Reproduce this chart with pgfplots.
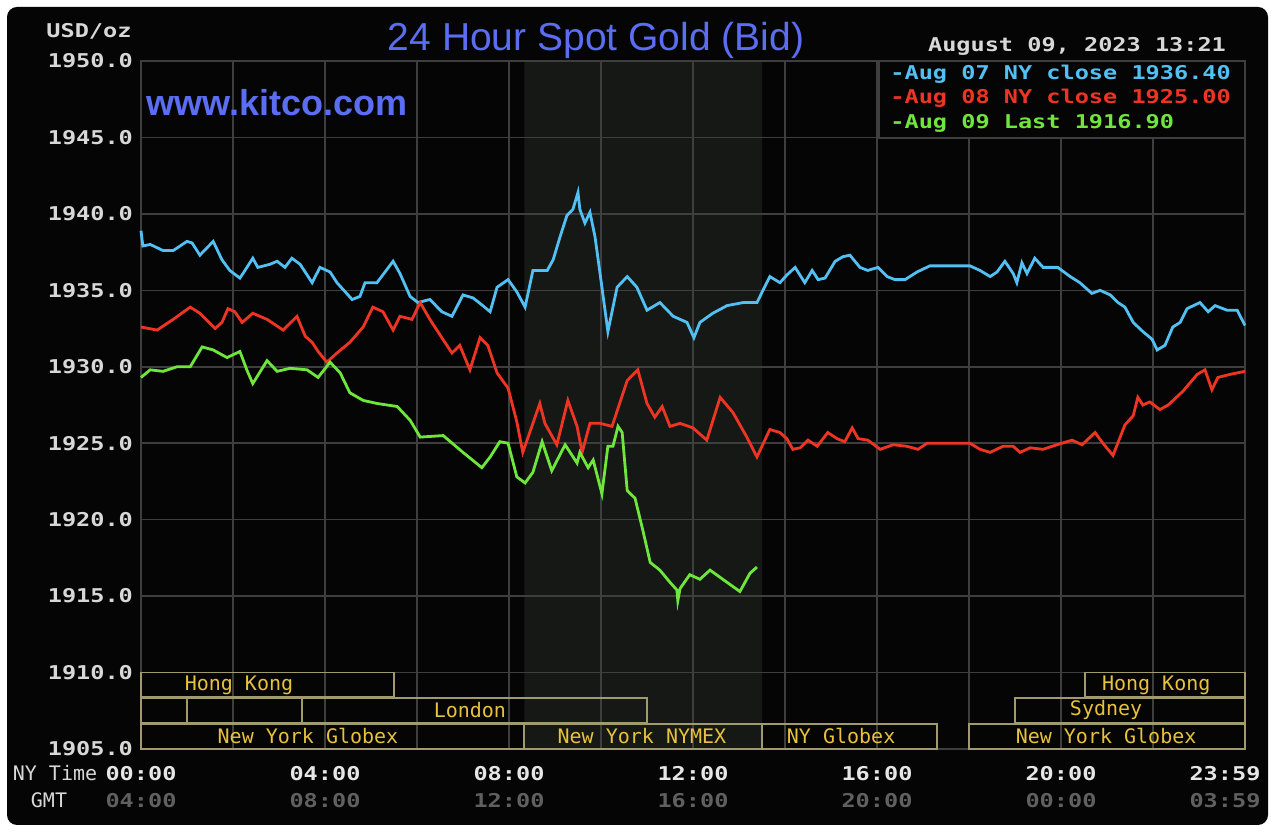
\documentclass[border=0pt]{standalone}
\usepackage{fontspec}
\usepackage{pgfplots}
\pgfplotsset{compat=1.18}
\setmainfont{DejaVu Sans Mono}
\newfontfamily\tickfont[FakeStretch=1.24]{DejaVu Sans Mono}
\newfontfamily\sansf{Liberation Sans}
\definecolor{bg}{HTML}{050505}
\definecolor{gridc}{HTML}{3E3E3E}
\definecolor{shade}{HTML}{151815}
\definecolor{boxc}{HTML}{A09A6C}
\definecolor{labc}{HTML}{E8C23C}
\definecolor{ticklab}{HTML}{D8D8D8}
\definecolor{xlab}{HTML}{E6E6E6}
\definecolor{gmtc}{HTML}{606060}
\definecolor{titlec}{HTML}{5B6DF2}
\definecolor{bluel}{HTML}{52C0F2}
\definecolor{redl}{HTML}{EE3524}
\definecolor{greenl}{HTML}{6FE63C}
\newcommand{\tf}{\tickfont\bfseries\fontsize{9.5}{13.5}\selectfont}
\newcommand{\lf}{\fontsize{10}{12}\selectfont}
\pgfplotsset{goldbase/.style={
 at={(70.5pt,44.5pt)}, anchor=south west,
 scale only axis, width=552pt, height=344pt,
 xmin=0, xmax=24, ymin=1905, ymax=1950}}
\begin{document}
\begin{tikzpicture}
\fill[white] (0,0) rectangle (637pt,419pt);
\fill[bg, rounded corners=5pt] (3.5pt,6.5pt) rectangle (634pt,415.5pt);
% shaded NYMEX session, below the grid
\begin{axis}[goldbase, hide axis]
\addplot[fill=shade, draw=none] coordinates {(8.333,1905) (8.333,1950) (13.5,1950) (13.5,1905) (8.333,1905)};
\end{axis}
\begin{axis}[
 goldbase,
 clip=false,
 xtick={0,4,...,20}, minor xtick={2,6,...,22},
 extra x ticks={24},
 extra x tick labels={{23:59\\\textcolor{gmtc}{03:59}}},
 extra x tick style={xticklabel style={xshift=-10pt}},
 ytick={1905,1910,...,1950},
 grid=both,
 major grid style={draw=gridc, line width=0.75pt},
 minor grid style={draw=gridc, line width=0.75pt},
 axis line style={draw=gridc, line width=0.75pt},
 major tick length=0pt, minor tick length=0pt,
 tick style={draw=none},
 xticklabels={
  {00:00\\\textcolor{gmtc}{04:00}},
  {04:00\\\textcolor{gmtc}{08:00}},
  {08:00\\\textcolor{gmtc}{12:00}},
  {12:00\\\textcolor{gmtc}{16:00}},
  {16:00\\\textcolor{gmtc}{20:00}},
  {20:00\\\textcolor{gmtc}{00:00}}},
 xticklabel style={font=\tf, align=center, text=xlab, yshift=-5pt},
 yticklabel style={font=\tf, text=ticklab, xshift=-0.5pt,
   /pgf/number format/fixed, /pgf/number format/fixed zerofill,
   /pgf/number format/precision=1, /pgf/number format/1000 sep={},
   /pgf/number format/assume math mode=true},
]
\addplot[bluel, line width=1.4pt] coordinates {
(0,1938.9) (0.04,1937.9) (0.20,1938.0) (0.48,1937.6) (0.70,1937.6) (1.00,1938.2) (1.11,1938.1) (1.28,1937.3) (1.57,1938.2) (1.76,1937.0) (1.93,1936.3) (2.15,1935.8) (2.26,1936.3) (2.43,1937.1) (2.54,1936.5) (2.80,1936.7) (2.96,1936.9) (3.13,1936.5) (3.28,1937.1) (3.46,1936.7) (3.72,1935.5) (3.89,1936.5) (4.11,1936.2) (4.26,1935.5) (4.59,1934.4) (4.76,1934.6) (4.87,1935.5) (5.13,1935.5) (5.48,1936.9) (5.63,1936.1) (5.85,1934.6) (6.02,1934.2) (6.28,1934.4) (6.54,1933.6) (6.76,1933.3) (7.00,1934.7) (7.22,1934.5) (7.43,1934.0) (7.59,1933.6) (7.74,1935.2) (7.98,1935.7) (8.17,1934.9) (8.35,1933.9) (8.52,1936.3) (8.83,1936.3) (8.96,1937.0) (9.11,1938.5) (9.26,1939.9) (9.39,1940.3) (9.50,1941.4) (9.54,1940.3) (9.65,1939.4) (9.76,1940.1) (9.87,1938.5) (10.02,1935.2) (10.15,1932.3) (10.35,1935.2) (10.57,1935.9) (10.78,1935.2) (11.00,1933.7) (11.28,1934.2) (11.57,1933.3) (11.87,1932.9) (12.02,1931.9) (12.15,1932.9) (12.43,1933.5) (12.74,1934.0) (13.09,1934.2) (13.39,1934.2) (13.67,1935.9) (13.89,1935.5) (14.04,1936.0) (14.22,1936.5) (14.43,1935.5) (14.59,1936.3) (14.72,1935.7) (14.87,1935.8) (15.09,1936.9) (15.26,1937.2) (15.41,1937.3) (15.63,1936.5) (15.80,1936.3) (16.02,1936.5) (16.22,1935.9) (16.39,1935.7) (16.61,1935.7) (16.87,1936.2) (17.15,1936.6) (18.02,1936.6) (18.24,1936.3) (18.46,1935.9) (18.61,1936.2) (18.78,1936.9) (18.96,1936.1) (19.04,1935.5) (19.15,1936.8) (19.26,1936.1) (19.43,1937.1) (19.61,1936.5) (19.93,1936.5) (20.20,1935.9) (20.41,1935.5) (20.67,1934.8) (20.85,1935.0) (21.07,1934.7) (21.24,1934.2) (21.39,1933.9) (21.57,1932.9) (21.78,1932.3) (21.98,1931.8) (22.09,1931.1) (22.26,1931.4) (22.43,1932.6) (22.59,1932.9) (22.74,1933.8) (23.02,1934.2) (23.20,1933.6) (23.35,1934.0) (23.61,1933.7) (23.83,1933.7) (24.0,1932.7)};

\addplot[redl, line width=1.4pt] coordinates {
(0,1932.6) (0.35,1932.4) (0.70,1933.1) (1.07,1933.9) (1.28,1933.5) (1.61,1932.5) (1.76,1932.9) (1.89,1933.8) (2.04,1933.6) (2.20,1932.9) (2.43,1933.5) (2.74,1933.1) (3.09,1932.4) (3.39,1933.3) (3.57,1932.0) (3.72,1931.6) (3.85,1931.0) (4.04,1930.3) (4.26,1930.9) (4.54,1931.6) (4.83,1932.6) (5.04,1933.9) (5.26,1933.6) (5.48,1932.4) (5.63,1933.3) (5.89,1933.1) (6.07,1934.2) (6.28,1933.1) (6.54,1931.9) (6.76,1930.9) (6.93,1931.4) (7.15,1929.8) (7.37,1931.9) (7.54,1931.4) (7.74,1929.6) (7.98,1928.6) (8.17,1926.4) (8.30,1924.4) (8.52,1926.3) (8.67,1927.6) (8.78,1926.3) (9.04,1924.9) (9.28,1927.8) (9.48,1926.1) (9.59,1924.4) (9.76,1926.3) (9.98,1926.3) (10.24,1926.1) (10.57,1929.1) (10.80,1929.8) (11.00,1927.6) (11.17,1926.7) (11.33,1927.4) (11.50,1926.1) (11.72,1926.3) (12.00,1926.0) (12.30,1925.2) (12.59,1928.0) (12.87,1927.0) (13.17,1925.4) (13.39,1924.1) (13.67,1925.9) (13.89,1925.7) (14.04,1925.3) (14.17,1924.6) (14.33,1924.7) (14.50,1925.2) (14.70,1924.8) (14.93,1925.7) (15.13,1925.3) (15.30,1925.1) (15.46,1926.0) (15.59,1925.3) (15.80,1925.2) (16.07,1924.6) (16.35,1924.9) (16.65,1924.8) (16.89,1924.6) (17.09,1925.0) (18.02,1925.0) (18.24,1924.6) (18.46,1924.4) (18.74,1924.8) (18.96,1924.8) (19.11,1924.4) (19.33,1924.7) (19.61,1924.6) (19.91,1924.9) (20.24,1925.2) (20.46,1924.9) (20.74,1925.7) (20.91,1925.0) (21.13,1924.2) (21.39,1926.2) (21.57,1926.8) (21.67,1928.0) (21.78,1927.5) (21.93,1927.7) (22.15,1927.2) (22.33,1927.5) (22.65,1928.4) (22.96,1929.5) (23.13,1929.8) (23.28,1928.5) (23.41,1929.3) (23.67,1929.5) (24.0,1929.7)};

\addplot[greenl, line width=1.4pt] coordinates {
(0,1929.3) (0.20,1929.8) (0.48,1929.7) (0.78,1930.0) (1.07,1930.0) (1.33,1931.3) (1.57,1931.1) (1.87,1930.6) (2.15,1931.0) (2.30,1929.8) (2.43,1928.9) (2.74,1930.4) (2.96,1929.7) (3.24,1929.9) (3.61,1929.8) (3.85,1929.3) (4.11,1930.3) (4.33,1929.6) (4.54,1928.3) (4.83,1927.8) (5.13,1927.6) (5.57,1927.4) (5.85,1926.5) (6.07,1925.4) (6.57,1925.5) (7.00,1924.4) (7.41,1923.4) (7.59,1924.1) (7.80,1925.1) (7.98,1925.0) (8.17,1922.8) (8.35,1922.4) (8.52,1923.1) (8.72,1925.1) (8.93,1923.2) (9.22,1924.9) (9.48,1923.7) (9.54,1924.4) (9.72,1923.4) (9.83,1923.9) (10.02,1921.7) (10.15,1924.8) (10.26,1924.8) (10.37,1926.1) (10.46,1925.7) (10.57,1921.9) (10.74,1921.4) (10.91,1919.3) (11.07,1917.2) (11.28,1916.7) (11.50,1915.9) (11.65,1915.4) (11.67,1914.7) (11.72,1915.5) (11.93,1916.4) (12.15,1916.1) (12.37,1916.7) (12.74,1915.9) (13.02,1915.3) (13.24,1916.5) (13.39,1916.9)};

% session boxes
\begin{scope}[draw=boxc, line width=0.9pt]
\draw (axis cs:0,1908.42) rectangle (axis cs:5.5,1910);
\draw (axis cs:20.52,1908.42) rectangle (axis cs:24,1910);
\draw (axis cs:0,1906.71) rectangle (axis cs:1.0,1908.36);
\draw (axis cs:1.0,1906.71) rectangle (axis cs:3.5,1908.36);
\draw (axis cs:3.5,1906.71) rectangle (axis cs:11.0,1908.36);
\draw (axis cs:19.0,1906.71) rectangle (axis cs:24,1908.36);
\draw (axis cs:0,1905) rectangle (axis cs:8.333,1906.62);
\draw (axis cs:8.333,1905) rectangle (axis cs:13.5,1906.62);
\draw (axis cs:13.5,1905) rectangle (axis cs:17.3,1906.62);
\draw (axis cs:18.0,1905) rectangle (axis cs:24,1906.62);
\end{scope}
\begin{scope}[every node/.style={text=labc, font=\lf, inner sep=0pt}]
\node at (axis cs:2.13,1909.15) {Hong Kong};
\node at (axis cs:22.07,1909.15) {Hong Kong};
\node at (axis cs:7.15,1907.53) {London};
\node at (axis cs:20.98,1907.53) {Sydney};
\node at (axis cs:3.63,1905.85) {New York Globex};
\node at (axis cs:10.89,1905.85) {New York NYMEX};
\node at (axis cs:15.22,1905.85) {NY Globex};
\node at (axis cs:20.98,1905.85) {New York Globex};
\end{scope}
\node[text=titlec, font=\sansf\bfseries\fontsize{18}{21}\selectfont, inner sep=0pt] at (axis cs:2.96,1947.25) {www.kitco.com};
\end{axis}
% legend box and header texts
\fill[bg] (439.5pt,350pt) rectangle (622.5pt,388.5pt);
\draw[gridc, line width=0.75pt] (439.5pt,350pt) rectangle (622.5pt,388.5pt);
\begin{scope}[every node/.style={anchor=west, font=\tf, inner sep=0pt}]
\node[text=bluel] at (445pt,382pt) {-Aug 07 NY close 1936.40};
\node[text=redl] at (445pt,370pt) {-Aug 08 NY close 1925.00};
\node[text=greenl] at (445pt,357.5pt) {-Aug 09 Last 1916.90};
\end{scope}
\node[text=titlec, font=\sansf\fontsize{19.5}{22}\selectfont, inner sep=0pt] at (298pt,399pt) {24 Hour Spot Gold (Bid)};
\node[text=ticklab, font=\tf, inner sep=0pt] at (538.5pt,396pt) {August 09, 2023 13:21};
\node[text=ticklab, font=\tf, inner sep=0pt] at (44.5pt,403.5pt) {USD/oz};
\node[text=ticklab, font=\lf, inner sep=0pt] at (27.5pt,32.5pt) {NY Time};
\node[text=ticklab, font=\lf, inner sep=0pt] at (24.5pt,19pt) {GMT};
\end{tikzpicture}
\end{document}
